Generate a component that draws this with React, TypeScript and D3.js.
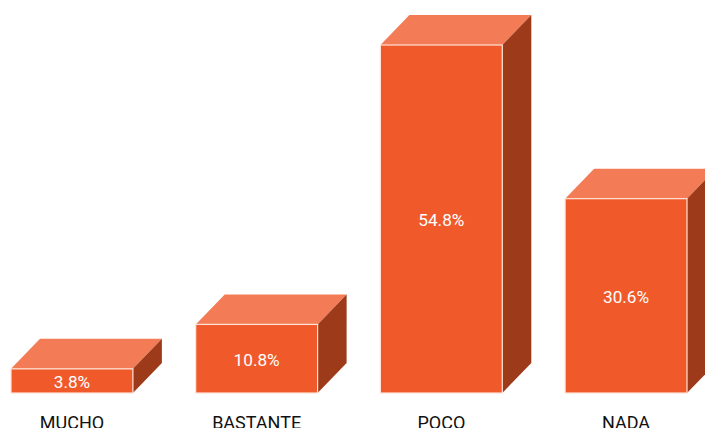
import React, { useEffect, useRef } from 'react';
import * as d3 from 'd3';

const categories = ['MUCHO', 'BASTANTE', 'POCO', 'NADA'];
const values = [3.8, 10.8, 54.8, 30.6];

const WIDTH = 705;
const HEIGHT = 428;
const DEPTH_X = 29;
const DEPTH_Y = 30;

const FRONT = '#f05a2b';
const TOP = '#f37c56';
const SIDE = '#9d3a1a';
const FONT = 'Roboto, "Noto Sans", sans-serif';

const App: React.FC = () => {
  const svgRef = useRef<SVGSVGElement>(null);

  useEffect(() => {
    if (!svgRef.current) return;
    const svg = d3.select(svgRef.current);
    svg.selectAll('*').remove();

    const x = d3.scaleBand<string>().domain(categories).range([11, 687]).paddingInner(0.34).paddingOuter(0);
    const y = d3.scaleLinear().domain([0, 54.8]).range([393, 45]);
    const bw = x.bandwidth();
    const data = categories.map((c, i) => ({ label: c, value: values[i] }));

    const bar = svg.selectAll('.bar').data(data).enter().append('g').attr('class', 'bar');

    // top face
    bar
      .append('path')
      .attr('fill', TOP)
      .attr('d', d => {
        const x0 = x(d.label) || 0;
        const y0 = y(d.value);
        return `M${x0},${y0}L${x0 + DEPTH_X},${y0 - DEPTH_Y}L${x0 + bw + DEPTH_X},${y0 - DEPTH_Y}L${x0 + bw},${y0}Z`;
      });

    // side face
    bar
      .append('path')
      .attr('fill', SIDE)
      .attr('d', d => {
        const x1 = (x(d.label) || 0) + bw;
        const y0 = y(d.value);
        const yb = y(0);
        return `M${x1},${y0}L${x1 + DEPTH_X},${y0 - DEPTH_Y}L${x1 + DEPTH_X},${yb - DEPTH_Y}L${x1},${yb}Z`;
      });

    // front face
    bar
      .append('rect')
      .attr('x', d => x(d.label) || 0)
      .attr('y', d => y(d.value))
      .attr('width', bw)
      .attr('height', d => y(0) - y(d.value))
      .attr('fill', FRONT)
      .attr('stroke', '#fde3d8')
      .attr('stroke-width', 1.2);

    bar
      .append('text')
      .attr('x', d => (x(d.label) || 0) + bw / 2)
      .attr('y', d => (y(d.value) + y(0)) / 2 + 1)
      .attr('text-anchor', 'middle')
      .attr('dominant-baseline', 'central')
      .style('font-family', FONT)
      .style('font-size', '17.2px')
      .style('fill', '#fff')
      .text(d => `${d.value}%`);

    bar
      .append('text')
      .attr('x', d => (x(d.label) || 0) + bw / 2)
      .attr('y', 428.5)
      .attr('text-anchor', 'middle')
      .style('font-family', FONT)
      .style('font-size', '18px')
      .style('fill', '#111')
      .text(d => d.label);
  }, []);

  return (
    <svg
      ref={svgRef}
      width={WIDTH}
      height={HEIGHT}
      style={{ position: 'absolute', left: 0, top: 0, background: '#fff' }}
    />
  );
};

export default App;
